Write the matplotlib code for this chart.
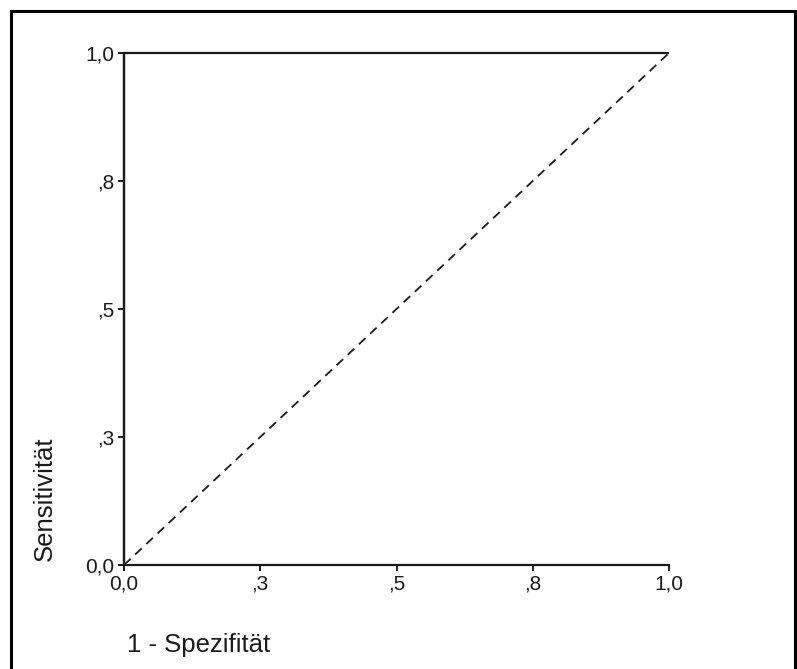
import matplotlib.pyplot as plt
from matplotlib.lines import Line2D

plt.rcParams["font.family"] = ["Liberation Sans", "DejaVu Sans"]

# ROC curve (1 - specificity vs. sensitivity) and reference diagonal
roc_fpr = [0.0, 0.0, 1.0]
roc_tpr = [0.0, 1.0, 1.0]
ref_x = [0.0, 1.0]
ref_y = [0.0, 1.0]

tick_values = [0.0, 0.25, 0.5, 0.75, 1.0]
tick_labels = ["0,0", ",3", ",5", ",8", "1,0"]

W, H = 797, 669
fig = plt.figure(figsize=(W / 100, H / 100), dpi=100)
ax = fig.add_axes([124 / W, 1 - 565 / H, (669 - 124) / W, (565 - 53) / H])

text_color = "#1a1a1a"
line_color = "#1a1a1a"

ax.plot(ref_x, ref_y, color=line_color, lw=1.3, linestyle=(0, (5, 3.5)), clip_on=False)
ax.plot(roc_fpr, roc_tpr, color=line_color, lw=1.6, clip_on=False, solid_capstyle="butt")

ax.set_xlim(0, 1)
ax.set_ylim(0, 1)
ax.set_xticks(tick_values)
ax.set_xticklabels(tick_labels)
ax.set_yticks(tick_values)
ax.set_yticklabels(tick_labels)

for side in ("top", "right"):
    ax.spines[side].set_visible(False)
for side in ("left", "bottom"):
    ax.spines[side].set_linewidth(1.6)
    ax.spines[side].set_color(line_color)

ax.tick_params(axis="both", direction="out", length=4, width=1.4,
               colors=line_color, labelcolor=text_color, labelsize=15, pad=3)

# axis titles placed like the SPSS output
fig.text(45 / W, 1 - 561 / H, "Sensitivität", rotation=90, ha="center",
         va="bottom", fontsize=18.5, color=text_color)
fig.text(127 / W, 1 - 645 / H, "1 - Spezifität", ha="left", va="center",
         fontsize=18.5, color=text_color)

# outer frame (open at the bottom, cut off in the source)
frame_x = [11 / W, 11 / W, 795 / W, 795 / W]
frame_y = [0, 1 - 11 / H, 1 - 11 / H, 0]
fig.add_artist(Line2D(frame_x, frame_y, transform=fig.transFigure,
                      color="black", lw=2.2, solid_joinstyle="miter"))

fig.savefig("out.png", dpi=100)
